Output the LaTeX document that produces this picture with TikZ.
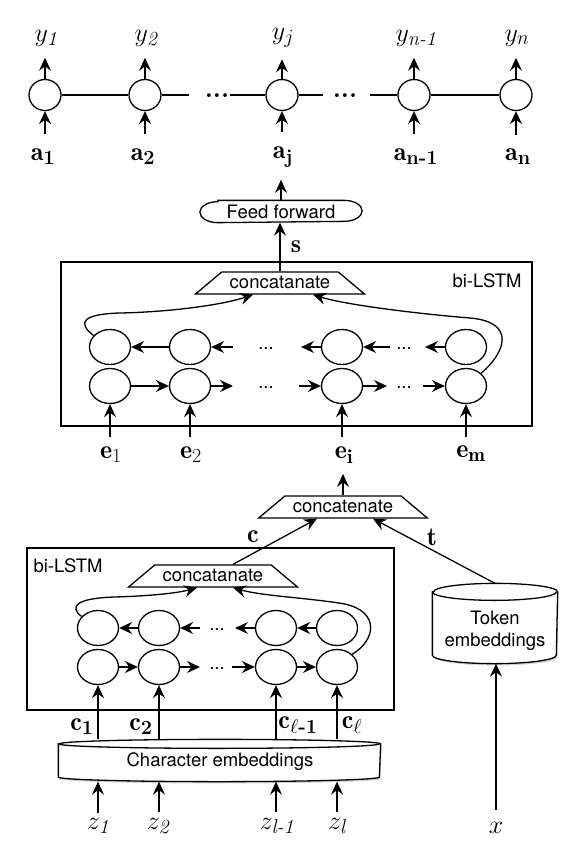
\RequirePackage{fix-cm}
\documentclass[tikz,border=0pt]{standalone}
\usepackage{amsmath}
\usepackage{fontspec}
\newfontfamily\helv{TeX Gyre Heros}
\usetikzlibrary{arrows.meta,shapes.geometric,shapes.misc,shadows,calc}
\DeclareMathSizes{26}{26}{20}{14}
\begin{document}
\begin{tikzpicture}[x=1pt,y=-1pt, line width=1.3pt,
  arr/.style={-{Stealth[length=13pt,width=12pt,inset=4.5pt]}},
  cell/.style={ellipse,draw,minimum width=41pt,minimum height=35pt,inner sep=0pt},
  topcell/.style={ellipse,draw,minimum width=32pt,minimum height=31pt,inner sep=0pt},
  lbl/.style={font=\fontsize{26}{30}\selectfont,inner sep=1pt},
  sans/.style={font=\helv\fontsize{18.5}{22}\selectfont},
  trap/.style={trapezium,draw,fill=white,trapezium angle=40,sans,inner xsep=8pt,inner ysep=5.5pt,text height=11pt,text depth=0pt},
  dotsl/.style={sans,inner sep=0pt,anchor=base},
  shd/.style={drop shadow={shadow xshift=1.2pt,shadow yshift=-1.8pt,opacity=0.35}}
]
\useasboundingbox (0,0) rectangle (580,846);

% ---------- top chain ----------
\foreach \i/\x in {1/45,2/145,3/282,4/414,5/516} \node[topcell] (t\i) at (\x,95) {};
\node[lbl] (y1) at (46,38) {$y_{\textit{1}}$};
\node[lbl] (y2) at (146,38) {$y_{\textit{2}}$};
\node[lbl] (y3) at (283,38) {$y_{j}$};
\node[lbl] (y4) at (416,38) {$y_{\textit{n-1}}$};
\node[lbl] (y5) at (517,38) {$y_{n}$};
\node[lbl] (a1) at (43,157) {$\mathbf{a}_{\textbf{1}}$};
\node[lbl] (a2) at (143,157) {$\mathbf{a}_{\textbf{2}}$};
\node[lbl] (a3) at (283,157) {$\mathbf{a}_{\textbf{j}}$};
\node[lbl] (a4) at (416,157) {$\mathbf{a}_{\textbf{n-1}}$};
\node[lbl] (a5) at (518,157) {$\mathbf{a}_{\textbf{n}}$};
\foreach \i in {1,...,5} {
  \draw[arr,shorten >=10pt] (t\i.north) -- (t\i.north |- y\i.south);
  \draw[arr,shorten <=13pt] (t\i.south |- a\i.north) -- (t\i.south);
}
\coordinate (d1a) at (189,95); \coordinate (d1b) at (230,95);
\coordinate (d2a) at (323,95); \coordinate (d2b) at (370,95);
\draw (t1) -- (t2);
\draw (t2) -- (d1a);
\draw (d1b) -- (t3);
\draw (t3) -- (d2a);
\draw (d2b) -- (t4);
\draw (t4) -- (t5);
\node[lbl,inner sep=0pt,anchor=base] (dd1) at (217,97) {\textbf{...}};
\node[lbl,inner sep=0pt,anchor=base] (dd2) at (345,97) {\textbf{...}};

% ---------- upper bi-LSTM ----------
\node[draw,minimum width=471pt,minimum height=164pt,inner sep=0pt] (ubox) at (296.5,344) {};
\node[sans] (ubl) at (487,281) {bi-LSTM};
\node[trap] (uc) at (280,283) {concatanate};
\node[minimum width=161pt,minimum height=21pt,inner sep=0pt] (ff) at (281,211.5) {};
\draw[fill=white] ($(ff.north west)+(18,0)$) -- ($(ff.north east)+(-18,0)$)
  arc[start angle=90,end angle=-90,x radius=18pt,y radius=10.5pt]
  -- ($(ff.south west)+(18,0)$)
  arc[start angle=270,end angle=90,x radius=18pt,y radius=10.5pt] -- cycle;
\node[sans,inner sep=0pt] (fftxt) at (ff.center) {Feed forward};
\draw[arr] (uc.north) -- (uc.north |- ff.south);
\node[lbl] (s) at (296,247) {$\mathbf{s}$};
\draw[arr,shorten >=11pt] (ff.north) -- (ff.north |- a3.south);

\foreach \i/\x in {1/110,2/190,3/342,4/466} {
  \node[cell] (ub\i) at (\x,347) {};
  \node[cell] (uf\i) at (\x,386) {};
}
% backward row
\draw[arr] (ub2) -- (ub1);
\coordinate (ub2r) at (233,347); \draw[arr] (ub2r) -- (ub2);
\node[dotsl] (ud1) at (266,349) {...};
\coordinate (ub3l) at (301,347); \draw[arr] (ub3) -- (ub3l);
\coordinate (ub3r) at (390,347); \draw[arr] (ub3r) -- (ub3);
\node[dotsl] (ud2) at (404,349) {...};
\coordinate (ub4l) at (425,347); \draw[arr] (ub4) -- (ub4l);
% forward row
\draw[arr] (uf1) -- (uf2);
\coordinate (uf2r) at (233,386); \draw[arr] (uf2) -- (uf2r);
\node[dotsl] (ud3) at (266,388) {...};
\coordinate (uf3l) at (299,386); \draw[arr] (uf3l) -- (uf3);
\coordinate (uf3r) at (387,386); \draw[arr] (uf3) -- (uf3r);
\node[dotsl] (ud4) at (404,388) {...};
\coordinate (uf4l) at (423,386); \draw[arr] (uf4l) -- (uf4);
% curves to concatanate
\draw[arr] (ub1.145) .. controls (76,322) and (84,314) .. (120,313)
  .. controls (170,312) and (222,305) .. ($(uc.south)+(-27,0)$);
\draw[arr] (uf4.40) .. controls (506,352) and (516,322) .. (470,318)
  .. controls (420,314) and (346,305) .. ($(uc.south)+(33,0)$);

% e labels
\node[lbl] (e1) at (111,455) {$\mathbf{e}_1$};
\node[lbl] (e2) at (191,455) {$\mathbf{e}_2$};
\node[lbl] (e3) at (344,455) {$\mathbf{e}_{\mathbf{i}}$};
\node[lbl] (e4) at (471,454) {$\mathbf{e}_{\mathbf{m}}$};
\foreach \i in {1,...,4} \draw[arr,shorten <=8pt] (uf\i.south |- e\i.north) -- (uf\i.south);

% ---------- middle concatenate ----------
\node[trap] (mc) at (343,507) {concatenate};
\draw[arr,shorten >=9pt] (mc.north) -- (mc.north |- e3.south);

% ---------- lower bi-LSTM ----------
\node[draw,minimum width=367pt,minimum height=162pt,inner sep=0pt] (lbox) at (210.5,629) {};
\node[sans] (lbl2) at (68,566) {bi-LSTM};
\node[trap] (lc) at (213,576) {concatanate};
\foreach \i/\x in {1/98,2/159,3/276,4/337} {
  \node[cell] (lb\i) at (\x,628) {};
  \node[cell] (lf\i) at (\x,667) {};
}
\draw[arr] (lb2) -- (lb1);
\coordinate (lb2r) at (200,628); \draw[arr] (lb2r) -- (lb2);
\node[dotsl] (ld1) at (217,630) {...};
\coordinate (lb3l) at (235,628); \draw[arr] (lb3) -- (lb3l);
\draw[arr] (lb4) -- (lb3);
\draw[arr] (lf1) -- (lf2);
\coordinate (lf2r) at (200,667); \draw[arr] (lf2) -- (lf2r);
\node[dotsl] (ld2) at (217,669) {...};
\coordinate (lf3l) at (232,667); \draw[arr] (lf3l) -- (lf3);
\draw[arr] (lf3) -- (lf4);
\draw[arr] (lb1.145) .. controls (68,606) and (78,598) .. (115,597)
  .. controls (150,596) and (178,593) .. ($(lc.south)+(-16,0)$);
\draw[arr] (lf4.40) .. controls (376,640) and (380,612) .. (345,604)
  .. controls (310,598) and (262,596) .. ($(lc.south)+(20,0)$);

% c and t
\draw[arr] ($(lc.north)+(20,0)$) -- ($(mc.south)+(-26,0)$);
\node[lbl] (cl) at (253,537) {$\mathbf{c}$};

% token embeddings
\node[minimum width=124pt,minimum height=79pt,inner sep=0pt] (tok) at (495,623.5) {};
\path[draw,fill=white,shd] ($(tok.north west)+(0,8.5)$) -- ($(tok.south west)+(0,-8.5)$)
  arc[start angle=180,end angle=360,x radius=62pt,y radius=8.5pt]
  -- ($(tok.north east)+(0,8.5)$)
  arc[start angle=0,end angle=180,x radius=62pt,y radius=8.5pt] -- cycle;
\draw ($(tok.north west)+(0,8.5)$) arc[start angle=180,end angle=360,x radius=62pt,y radius=8.5pt];
\node[sans,align=center,inner sep=0pt] (toktxt) at (495,631) {Token\\embeddings};
\draw[arr] (tok.north) -- ($(mc.south)+(30,0)$);
\node[lbl] (tl) at (432,537) {$\mathbf{t}$};
\node[lbl] (xl) at (496,828) {$x$};
\draw[arr,shorten <=11pt] (xl.north) -- (xl.north |- tok.south);

% character embeddings
\node[minimum width=321pt,minimum height=41pt,inner sep=0pt] (chr) at (219.5,760.5) {};
\path[draw,fill=white,shd] ($(chr.north west)+(0,4.5)$) -- ($(chr.south west)+(0,-4.5)$)
  arc[start angle=180,end angle=360,x radius=160.5pt,y radius=4.5pt]
  -- ($(chr.north east)+(0,4.5)$)
  arc[start angle=0,end angle=180,x radius=160.5pt,y radius=4.5pt] -- cycle;
\draw ($(chr.north west)+(0,4.5)$) arc[start angle=180,end angle=360,x radius=160.5pt,y radius=4.5pt];
\node[sans,inner sep=0pt] (chrtxt) at (220,762) {Character embeddings};

\node[lbl] (c1) at (82,727) {$\mathbf{c}_{\textbf{1}}$};
\node[lbl] (c2) at (141,727) {$\mathbf{c}_{\textbf{2}}$};
\node[lbl] (c3) at (298,725) {$\mathbf{c}_{\ell\textbf{-1}}$};
\node[lbl] (c4) at (352,725) {$\mathbf{c}_{\ell}$};
\foreach \i in {1,...,4} \draw[arr] (lf\i.south |- chr.north) -- (lf\i.south);

\node[lbl] (z1) at (98,826) {$z_{\textit{1}}$};
\node[lbl] (z2) at (158,826) {$z_{\textit{2}}$};
\node[lbl] (z3) at (277,826) {$z_{\textit{l-1}}$};
\node[lbl] (z4) at (337,826) {$z_{\textit{l}}$};
\foreach \i in {1,...,4} \draw[arr,shorten <=4pt] (lf\i.south |- z\i.north) -- (lf\i.south |- chr.south);
\end{tikzpicture}
\end{document}
